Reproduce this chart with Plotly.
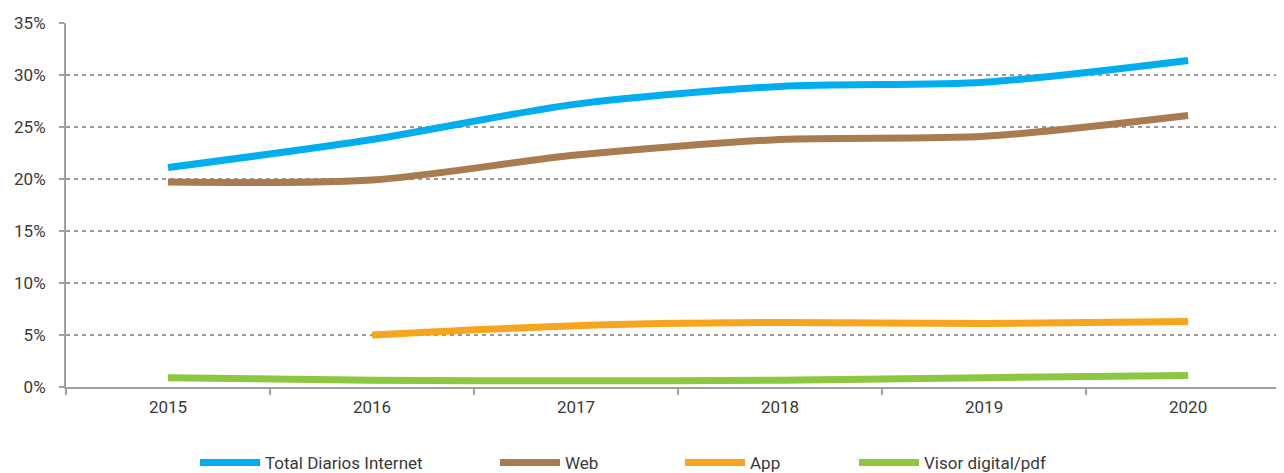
import plotly.graph_objects as go

years = ["2015", "2016", "2017", "2018", "2019", "2020"]
total = [21.1, 23.8, 27.2, 28.9, 29.3, 31.4]
web = [19.7, 19.9, 22.3, 23.8, 24.1, 26.1]
app = [None, 5.0, 5.9, 6.2, 6.1, 6.3]
visor = [0.9, 0.65, 0.6, 0.65, 0.9, 1.1]

names = ["Total Diarios Internet", "Web", "App", "Visor digital/pdf"]
colors = ["#00AEEF", "#A87B50", "#F7A51E", "#8DC63F"]
series = [total, web, app, visor]
legend_x = [0.1059, 0.3522, 0.5041, 0.6470]

FONT = "Roboto, Liberation Sans, sans-serif"
TXT = "#3a3a3a"

fig = go.Figure()
legend_ids = ["legend", "legend2", "legend3", "legend4"]
for name, col, vals, lid in zip(names, colors, series, legend_ids):
    fig.add_trace(go.Scatter(
        x=years, y=vals, name=name, mode="lines",
        line=dict(color=col, width=7, shape="spline", smoothing=0.8),
        connectgaps=False, legend=lid,
    ))

layout_legends = {}
for lid, lx in zip(legend_ids, legend_x):
    layout_legends[lid] = dict(
        orientation="h", x=lx, xanchor="left",
        yref="container", y=0.0215, yanchor="middle",
        font=dict(family=FONT, size=17, color=TXT), itemwidth=60,
        bgcolor="rgba(0,0,0,0)",
    )

# page body has an 8px default margin; offset the figure so the plot sits where the reference's does
fig.update_layout(
    width=1276, height=465,
    margin=dict(l=58, r=0, t=15, b=86),
    paper_bgcolor="white", plot_bgcolor="white",
    font=dict(family=FONT, size=17, color=TXT),
    showlegend=True,
    **layout_legends,
)
fig.update_xaxes(
    type="category", range=[-0.5, 5.47], automargin=False,
    showline=True, linecolor="#A0A0A0", linewidth=2,
    ticks="outside", ticklen=6, tickcolor="#A0A0A0", tickwidth=2,
    tickson="boundaries", showgrid=False, zeroline=False,
    ticklabelstandoff=4,
    tickfont=dict(family=FONT, size=17, color=TXT),
)
fig.update_yaxes(
    range=[0, 35], automargin=False, tickvals=[0, 5, 10, 15, 20, 25, 30, 35],
    ticktext=["0%", "5%", "10%", "15%", "20%", "25%", "30%", "35%"],
    showline=True, linecolor="#A0A0A0", linewidth=2,
    ticks="outside", ticklen=5, tickcolor="#A0A0A0", tickwidth=2,
    showgrid=True, gridcolor="#999999", griddash="4px,4px", gridwidth=1.5,
    zeroline=False, ticklabelstandoff=10,
    tickfont=dict(family=FONT, size=17, color=TXT),
)

fig.write_html("out.html")
